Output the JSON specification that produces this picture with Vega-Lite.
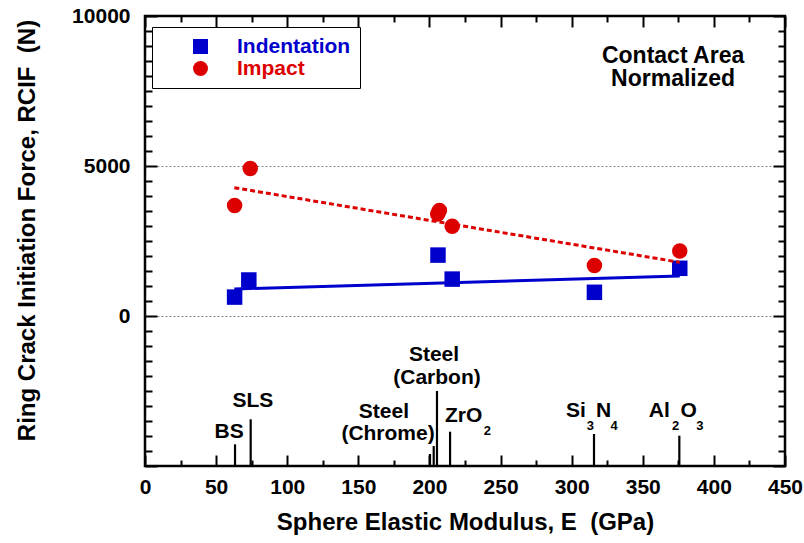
{
  "$schema": "https://vega.github.io/schema/vega-lite/v6.json",
  "width": 640,
  "height": 450,
  "autosize": {"type": "none"},
  "padding": {"left": 145, "top": 16, "right": 19, "bottom": 77},
  "config": {
    "font": "Liberation Sans",
    "view": {"stroke": "black", "strokeWidth": 2.5},
    "axis": {
      "domain": false,
      "tickColor": "black",
      "tickWidth": 2,
      "labelColor": "black",
      "titleColor": "black",
      "labelFont": "Liberation Sans",
      "titleFont": "Liberation Sans",
      "labelFontWeight": "bold",
      "titleFontWeight": "bold",
      "labelFontSize": 21,
      "titleFontSize": 24,
      "labelOverlap": false,
      "labelFlush": false
    }
  },
  "datasets": {
    "points": [
      {"E": 63, "F": 630, "series": "Indentation"},
      {"E": 73, "F": 1200, "series": "Indentation"},
      {"E": 206, "F": 2030, "series": "Indentation"},
      {"E": 216, "F": 1230, "series": "Indentation"},
      {"E": 316, "F": 790, "series": "Indentation"},
      {"E": 376, "F": 1590, "series": "Indentation"},
      {"E": 63, "F": 3680, "series": "Impact"},
      {"E": 74, "F": 4920, "series": "Impact"},
      {"E": 205.8, "F": 3400, "series": "Impact"},
      {"E": 207, "F": 3520, "series": "Impact"},
      {"E": 216, "F": 2990, "series": "Impact"},
      {"E": 316, "F": 1680, "series": "Impact"},
      {"E": 376, "F": 2170, "series": "Impact"}
    ],
    "fits": [
      {"E": 62.8, "F": 900, "series": "Indentation"},
      {"E": 376, "F": 1333, "series": "Indentation"},
      {"E": 62.8, "F": 4277, "series": "Impact"},
      {"E": 376, "F": 1790, "series": "Impact"}
    ],
    "materials": [
      {"E": 63.3, "base": -5000, "top": -4277},
      {"E": 74.3, "base": -5000, "top": -3443},
      {"E": 200.4, "base": -5000, "top": -4600},
      {"E": 203, "base": -5000, "top": -4333},
      {"E": 205.3, "base": -5000, "top": -2500},
      {"E": 214.5, "base": -5000, "top": -3857},
      {"E": 315.7, "base": -5000, "top": -3933},
      {"E": 375.7, "base": -5000, "top": -3990}
    ],
    "labels": [
      {"E": 59.1, "F": -3867, "text": "BS"},
      {"E": 75.9, "F": -2833, "text": "SLS"},
      {"E": 168, "F": -3200, "text": "Steel"},
      {"E": 170.9, "F": -3933, "text": "(Chrome)"},
      {"E": 203.2, "F": -1300, "text": "Steel"},
      {"E": 205.3, "F": -2067, "text": "(Carbon)"},
      {"E": 224, "F": -3333, "text": "ZrO"},
      {"E": 303, "F": -3167, "text": "Si"},
      {"E": 322.5, "F": -3167, "text": "N"},
      {"E": 361.6, "F": -3167, "text": "Al"},
      {"E": 382.3, "F": -3167, "text": "O"}
    ],
    "subs": [
      {"E": 240.7, "F": -3833, "text": "2"},
      {"E": 313.1, "F": -3656, "text": "3"},
      {"E": 329.8, "F": -3656, "text": "4"},
      {"E": 373.1, "F": -3656, "text": "2"},
      {"E": 390.2, "F": -3656, "text": "3"}
    ],
    "note": [
      {"E": 371.3, "F": 8680, "text": "Contact Area"},
      {"E": 371.3, "F": 7900, "text": "Normalized"}
    ]
  },
  "resolve": {"axis": {"x": "independent", "y": "independent"}},
  "layer": [
    {
      "data": {"name": "materials"},
      "mark": {"type": "rule", "color": "black", "strokeWidth": 2.2},
      "encoding": {
        "x": {
          "field": "E", "type": "quantitative",
          "scale": {"domain": [0, 450], "nice": false, "zero": false},
          "axis": {
            "orient": "top",
            "values": [0,25,50,75,100,125,150,175,200,225,250,275,300,325,350,375,400,425,450],
            "labels": false, "title": null, "grid": false,
            "tickSize": {"condition": {"test": "datum.value % 50 === 0", "value": -11}, "value": -6}
          }
        },
        "y": {
          "field": "base", "type": "quantitative",
          "scale": {"domain": [-5000, 10000], "nice": false, "zero": false},
          "axis": {
            "orient": "right",
            "values": [-5000,-4500,-4000,-3500,-3000,-2500,-2000,-1500,-1000,-500,0,500,1000,1500,2000,2500,3000,3500,4000,4500,5000,5500,6000,6500,7000,7500,8000,8500,9000,9500,10000],
            "labels": false, "title": null, "grid": false,
            "tickSize": {"condition": {"test": "datum.value % 5000 === 0", "value": -12}, "value": -7}
          }
        },
        "y2": {"field": "top"}
      }
    },
    {
      "data": {"name": "points"},
      "mark": {"type": "point", "filled": true, "opacity": 1, "size": 240},
      "encoding": {
        "x": {
          "field": "E", "type": "quantitative",
          "axis": {
            "orient": "bottom",
            "values": [0,25,50,75,100,125,150,175,200,225,250,275,300,325,350,375,400,425,450],
            "labelExpr": "datum.value % 50 === 0 ? datum.label : ''",
            "format": "d",
            "grid": false,
            "labelPadding": 21,
            "titlePadding": 8,
            "title": "Sphere Elastic Modulus, E\u00a0\u00a0(GPa)",
            "tickSize": {"condition": {"test": "datum.value % 50 === 0", "value": -11}, "value": -6}
          }
        },
        "y": {
          "field": "F", "type": "quantitative",
          "axis": {
            "orient": "left",
            "values": [-5000,-4500,-4000,-3500,-3000,-2500,-2000,-1500,-1000,-500,0,500,1000,1500,2000,2500,3000,3500,4000,4500,5000,5500,6000,6500,7000,7500,8000,8500,9000,9500,10000],
            "labelExpr": "datum.value >= 0 && datum.value % 5000 === 0 ? datum.label : ''",
            "format": "d",
            "grid": true,
            "gridColor": "#888888",
            "gridDash": [2, 2],
            "gridWidth": 1,
            "gridOpacity": {"condition": {"test": "datum.value === 0 || datum.value === 5000", "value": 1}, "value": 0},
            "labelPadding": 27,
            "titlePadding": 32,
            "titleY": 214,
            "title": "Ring Crack Initiation Force, RCIF\u00a0\u00a0(N)",
            "tickSize": {"condition": {"test": "datum.value % 5000 === 0", "value": -12}, "value": -7}
          }
        },
        "color": {
          "field": "series", "type": "nominal",
          "scale": {"domain": ["Indentation", "Impact"], "range": ["#0000cc", "#dd0000"]},
          "legend": {
            "title": null,
            "orient": "none",
            "legendX": 7,
            "legendY": 11,
            "padding": 9,
            "symbolOffset": 29,
            "labelOffset": 26,
            "rowPadding": 0,
            "symbolSize": 225,
            "symbolStrokeWidth": 0,
            "labelFont": "Liberation Sans",
            "labelFontWeight": "bold",
            "labelFontSize": 21,
            "labelColor": {"expr": "datum.value === 'Indentation' ? '#0000cc' : '#dd0000'"},
            "strokeColor": "black",
            "fillColor": "white",
            "encode": {
              "legend": {"strokeWidth": {"value": 2}}
            }
          }
        },
        "shape": {
          "field": "series", "type": "nominal",
          "scale": {"domain": ["Indentation", "Impact"], "range": ["square", "circle"]}
        }
      }
    },
    {
      "data": {"name": "fits"},
      "transform": [{"filter": "datum.series === 'Indentation'"}],
      "mark": {"type": "line", "color": "#0000cc", "strokeWidth": 3},
      "encoding": {
        "x": {"field": "E", "type": "quantitative", "axis": null},
        "y": {"field": "F", "type": "quantitative", "axis": null}
      }
    },
    {
      "data": {"name": "fits"},
      "transform": [{"filter": "datum.series === 'Impact'"}],
      "mark": {"type": "line", "color": "#dd0000", "strokeWidth": 3, "strokeDash": [5, 3]},
      "encoding": {
        "x": {"field": "E", "type": "quantitative", "axis": null},
        "y": {"field": "F", "type": "quantitative", "axis": null}
      }
    },
    {
      "data": {"name": "labels"},
      "mark": {"type": "text", "fontSize": 21, "fontWeight": "bold", "color": "black", "align": "center", "baseline": "middle"},
      "encoding": {
        "x": {"field": "E", "type": "quantitative", "axis": null},
        "y": {"field": "F", "type": "quantitative", "axis": null},
        "text": {"field": "text"}
      }
    },
    {
      "data": {"name": "subs"},
      "mark": {"type": "text", "fontSize": 13, "fontWeight": "bold", "color": "black", "align": "center", "baseline": "middle"},
      "encoding": {
        "x": {"field": "E", "type": "quantitative", "axis": null},
        "y": {"field": "F", "type": "quantitative", "axis": null},
        "text": {"field": "text"}
      }
    },
    {
      "data": {"name": "note"},
      "mark": {"type": "text", "fontSize": 23, "fontWeight": "bold", "color": "black", "align": "center", "baseline": "middle"},
      "encoding": {
        "x": {"field": "E", "type": "quantitative", "axis": null},
        "y": {"field": "F", "type": "quantitative", "axis": null},
        "text": {"field": "text"}
      }
    }
  ]
}
